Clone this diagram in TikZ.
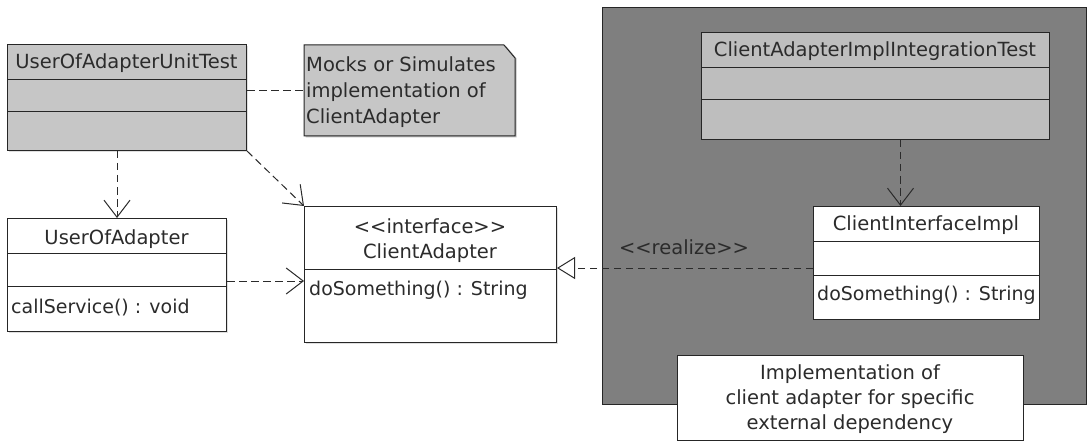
\documentclass[tikz,border=0pt]{standalone}
\usepackage{fontspec}
\setmainfont{DejaVu Sans}
\usetikzlibrary{arrows.meta,shadows}
\definecolor{txt}{HTML}{2B2B2B}
\definecolor{lgray}{HTML}{C6C6C6}
\definecolor{igray}{HTML}{BEBEBE}
\definecolor{dgray}{HTML}{7F7F7F}
\begin{document}
\begin{tikzpicture}[x=1pt,y=-1pt,
  every node/.style={font=\fontsize{19.5}{25}\selectfont, text=txt},
  classbox/.style={draw=black!85, line width=1pt, anchor=north west, inner sep=0pt,
    drop shadow={shadow xshift=1.5pt, shadow yshift=-1.5pt, opacity=0.25}},
  divider/.style={draw=black!85, line width=1pt},
  lbl/.style={anchor=base, inner sep=0pt},
  lblw/.style={anchor=base west, inner sep=0pt, font=\fontsize{19}{25}\selectfont},
  dep/.style={draw=txt, line width=1pt, dash pattern=on 7.5pt off 4.5pt,
    -{Straight Barb[length=17pt,width=26pt]}},
  real/.style={draw=txt, line width=1pt, dash pattern=on 7.5pt off 4.5pt,
    -{Triangle[open,length=18pt,width=22pt,fill=white]}},
  link/.style={draw=txt, line width=1pt, dash pattern=on 7.5pt off 4.5pt}
]
\useasboundingbox (0,0) rectangle (1090,441);
\fill[white] (0,0) rectangle (1090,441);

% container
\node[draw=black!85, line width=1pt, fill=dgray, anchor=north west, inner sep=0pt,
  minimum width=484pt, minimum height=397pt] (cont) at (602,7) {};

% UserOfAdapterUnitTest
\node[classbox, fill=lgray, minimum width=239pt, minimum height=106pt] (ut) at (7,44) {};
\draw[divider] (ut.west |- 0,80) -- (ut.east |- 0,80);
\draw[divider] (ut.west |- 0,112) -- (ut.east |- 0,112);
\node[lbl] (utname) at (126.5,69) {UserOfAdapterUnitTest};

% note
\node[inner sep=0pt, minimum width=211pt, minimum height=91pt, anchor=north west] (note) at (304,45) {};
\fill[black, opacity=0.25] (305.5,46.5) -- (506.5,46.5) -- (516.5,58.5) -- (516.5,137.5) -- (305.5,137.5) -- cycle;
\draw[draw=black!85, line width=1pt, fill=lgray] (304,45) -- (504,45) -- (515,58) -- (515,136) -- (304,136) -- cycle;
\node[anchor=base west, inner sep=0pt, align=left, font=\fontsize{19.5}{26}\selectfont] (notetext) at (306,124)
  {Mocks or Simulates\\implementation of\\ClientAdapter};

% UserOfAdapter
\node[classbox, fill=white, minimum width=219pt, minimum height=113pt] (ua) at (7,218) {};
\draw[divider] (ua.west |- 0,253) -- (ua.east |- 0,253);
\draw[divider] (ua.west |- 0,286) -- (ua.east |- 0,286);
\node[lbl] (uaname) at (116.5,244) {UserOfAdapter};
\node[lblw] (uameth) at (11,313) {callService() : void};

% ClientAdapter
\node[classbox, fill=white, minimum width=252pt, minimum height=136pt] (ca) at (304,206) {};
\draw[divider] (ca.west |- 0,269) -- (ca.east |- 0,269);
\node[lbl] (castereo) at (430,233) {<\kern0pt<interface>\kern0pt>};
\node[lbl] (caname) at (430,258) {ClientAdapter};
\node[lblw] (cameth) at (309,295) {doSomething() : String};

% ClientAdapterImplIntegrationTest
\node[classbox, fill=igray, minimum width=348pt, minimum height=107pt] (it) at (701,32) {};
\draw[divider] (it.west |- 0,68) -- (it.east |- 0,68);
\draw[divider] (it.west |- 0,100) -- (it.east |- 0,100);
\node[lbl] (itname) at (875,57) {ClientAdapterImplIntegrationTest};

% ClientInterfaceImpl
\node[classbox, fill=white, minimum width=226pt, minimum height=113pt] (ci) at (813,206) {};
\draw[divider] (ci.west |- 0,241) -- (ci.east |- 0,241);
\draw[divider] (ci.west |- 0,275) -- (ci.east |- 0,275);
\node[lbl] (ciname) at (926,230) {ClientInterfaceImpl};
\node[lblw] (cimeth) at (817,300) {doSomething() : String};

% implementation note box
\node[draw=black!85, line width=1pt, fill=white, anchor=north west, inner sep=0pt,
  minimum width=346pt, minimum height=85pt] (impl) at (677,355) {};
\node[anchor=base, inner sep=0pt, align=center, font=\fontsize{19.5}{25}\selectfont] (impltext) at (850,429)
  {Implementation of\\client adapter for specific\\external dependency};

% connectors
\draw[link] (ut.east |- note.west) -- (note.west);
\draw[dep] (ua.north |- ut.south) -- (ua.north);
\draw[dep] (ut.south east) -- (ca.north west);
\draw[dep] ([yshift=-6pt]ua.east) -- ([yshift=-6pt]ua.east -| ca.west);
\draw[real] ([yshift=-5pt]ci.west) -- ([yshift=-5pt]ci.west -| ca.east);
\node[lbl] (reallbl) at (684,254) {<\kern0pt<realize>\kern0pt>};
\draw[dep] ([xshift=-26pt]ci.north |- it.south) -- ([xshift=-26pt]ci.north);
\end{tikzpicture}
\end{document}
